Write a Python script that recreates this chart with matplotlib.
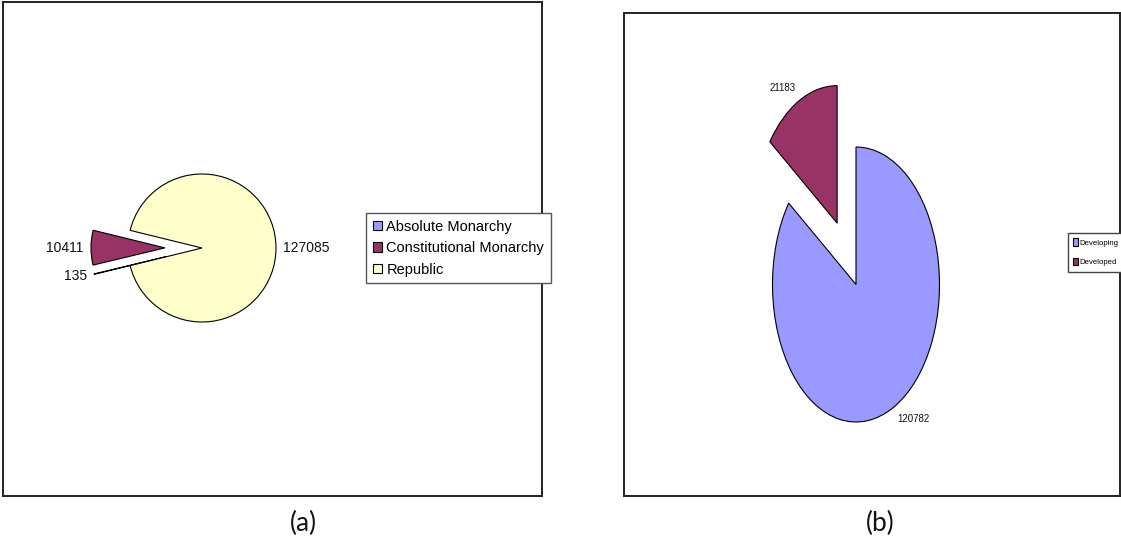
import matplotlib
matplotlib.use("Agg")
import matplotlib.pyplot as plt

# ---------------- data ----------------
gov_labels = ["Absolute Monarchy", "Constitutional Monarchy", "Republic"]
gov_values = [135, 10411, 127085]
gov_colors = ["#9999FF", "#993366", "#FFFFCC"]
gov_explode = [0.5, 0.5, 0.0]

dev_labels = ["Developing", "Developed"]
dev_values = [120782, 21183]
dev_colors = ["#9999FF", "#993366"]
dev_explode = [0.0, 0.5]

captions = ["(a)", "(b)"]

W, H = 1121, 543
fig = plt.figure(figsize=(W / 100, H / 100), dpi=100)


def rect(x0, y0, x1, y1):
    """pixel box (top-left origin) -> figure fraction rect"""
    return [x0 / W, 1 - y1 / H, (x1 - x0) / W, (y1 - y0) / H]


def box_axes(x0, y0, x1, y1):
    ax = fig.add_axes(rect(x0, y0, x1, y1))
    ax.set_xticks([])
    ax.set_yticks([])
    for s in ax.spines.values():
        s.set_linewidth(1.4)
        s.set_color("#222222")
    return ax


def pie_axes(cx, cy, rx, ry, L=1.8):
    ax = fig.add_axes(rect(cx - L * rx, cy - L * ry, cx + L * rx, cy + L * ry))
    ax.set_axis_off()
    return ax, L


# ---------------- panel (a) ----------------
box_axes(3, 2, 542, 496)
axa, La = pie_axes(202, 248, 74, 74)
tot = sum(gov_values)
start_a = 180 + 360 * (tot - gov_values[2]) / tot / 2
wa, ta = axa.pie(gov_values, labels=[str(v) for v in gov_values],
                 colors=gov_colors, explode=gov_explode,
                 startangle=start_a, counterclock=False, labeldistance=1.1,
                 wedgeprops=dict(edgecolor="black", linewidth=0.8),
                 textprops=dict(family=["Liberation Sans", "DejaVu Sans"],
                                fontsize=10, color="#111111"))
axa.set_aspect("auto")
axa.set_xlim(-La, La)
axa.set_ylim(-La, La)

fig.legend(wa, gov_labels, loc="upper left",
           bbox_to_anchor=(366 / W, 1 - 213 / H), bbox_transform=fig.transFigure,
           borderaxespad=0, fancybox=False, framealpha=1,
           edgecolor="#555555", handlelength=0.65, handleheight=0.65,
           handletextpad=0.3, labelspacing=0.52, borderpad=0.45,
           prop=dict(family=["Liberation Sans", "DejaVu Sans"], size=10.5))

# ---------------- panel (b) ----------------
box_axes(624, 13, 1120, 496)
axb, Lb = pie_axes(856, 284.5, 83.5, 137.5, L=1.75)
wb, tb = axb.pie(dev_values, labels=[str(v) for v in dev_values],
                 colors=dev_colors, explode=dev_explode,
                 startangle=90, counterclock=False, labeldistance=1.1,
                 wedgeprops=dict(edgecolor="black", linewidth=0.8),
                 textprops=dict(family=["Liberation Sans Narrow", "Liberation Sans"],
                                fontsize=7, color="#111111"))
axb.set_aspect("auto")
axb.set_xlim(-Lb, Lb)
axb.set_ylim(-Lb, Lb)

fig.legend(wb, dev_labels, loc="upper left",
           bbox_to_anchor=(1068 / W, 1 - 233 / H), bbox_transform=fig.transFigure,
           borderaxespad=0, fancybox=False, framealpha=1,
           edgecolor="#444444", handlelength=0.55, handleheight=1.1,
           handletextpad=0.2, labelspacing=1.4, borderpad=0.7,
           prop=dict(family=["Liberation Sans Narrow", "Liberation Sans"], size=5.6))

# ---------------- captions ----------------
for cx, txt in zip([303, 880], captions):
    fig.text(cx / W, 1 - 523 / H, txt, ha="center", va="center",
             fontsize=19, family=["Lato", "DejaVu Sans"], color="#111111")

fig.savefig("out.png", dpi=100, facecolor="white")
